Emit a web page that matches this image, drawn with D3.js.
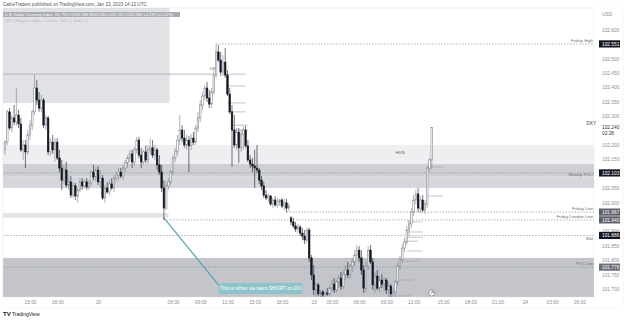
<!DOCTYPE html>
<html>
<head>
<meta charset="utf-8">
<script src="https://cdn.jsdelivr.net/npm/d3@7"></script>
<style>
body { margin: 0; background: #fff; }
text { font-family: "Liberation Sans", Arial, sans-serif; }
</style>
</head>
<body>
<script>
var svgWidth = 625, svgHeight = 320;

// 15 min DXY bars, [open, high, low, close]
var ohlc = [
[102.183,102.217,102.165,102.210],[102.210,102.322,102.200,102.315],[102.315,102.328,102.252,102.259],[102.259,102.304,102.245,102.294],
[102.294,102.339,102.269,102.280],[102.280,102.398,102.266,102.304],[102.304,102.322,102.259,102.273],[102.273,102.294,102.176,102.183],
[102.183,102.217,102.148,102.200],[102.200,102.217,102.120,102.176],[102.176,102.252,102.165,102.235],[102.235,102.287,102.217,102.269],
[102.269,102.322,102.252,102.315],[102.315,102.443,102.304,102.398],[102.398,102.426,102.339,102.356],[102.356,102.384,102.315,102.328],
[102.328,102.374,102.315,102.356],[102.356,102.363,102.259,102.269],[102.269,102.304,102.252,102.294],[102.294,102.301,102.165,102.176],
[102.176,102.224,102.162,102.210],[102.210,102.235,102.169,102.183],[102.183,102.224,102.141,102.210],[102.210,102.224,102.148,102.155],
[102.155,102.183,102.106,102.120],[102.120,102.148,102.044,102.078],[102.078,102.131,102.065,102.113],[102.113,102.141,102.051,102.061],
[102.061,102.096,102.044,102.072],[102.072,102.092,102.016,102.026],[102.026,102.072,102.016,102.058],[102.058,102.068,102.009,102.023],
[102.023,102.051,101.999,102.044],[102.044,102.085,102.037,102.072],[102.072,102.085,102.044,102.058],[102.058,102.078,102.051,102.072],
[102.072,102.085,102.044,102.054],[102.054,102.078,102.044,102.068],[102.068,102.113,102.058,102.106],[102.106,102.131,102.078,102.089],
[102.089,102.124,102.072,102.113],[102.113,102.127,102.061,102.072],[102.072,102.113,102.051,102.085],[102.085,102.096,102.009,102.016],
[102.016,102.061,101.999,102.051],[102.051,102.072,102.030,102.037],[102.037,102.078,102.026,102.065],[102.065,102.085,102.044,102.051],
[102.051,102.096,102.037,102.085],[102.085,102.106,102.072,102.096],[102.096,102.120,102.078,102.106],[102.106,102.120,102.085,102.092],
[102.092,102.131,102.078,102.120],[102.120,102.148,102.106,102.138],[102.138,102.165,102.120,102.155],[102.155,102.183,102.141,102.169],
[102.169,102.183,102.120,102.141],[102.141,102.190,102.131,102.183],[102.183,102.228,102.172,102.217],[102.217,102.228,102.155,102.165],
[102.165,102.190,102.120,102.141],[102.141,102.183,102.131,102.176],[102.176,102.197,102.138,102.148],[102.148,102.200,102.134,102.183],
[102.183,102.224,102.169,102.190],[102.190,102.217,102.155,102.165],[102.165,102.200,102.148,102.183],[102.183,102.190,102.113,102.131],
[102.131,102.165,102.096,102.106],[102.106,102.131,102.037,102.051],[102.051,102.078,101.940,101.981],[101.981,102.072,101.974,102.058],
[102.058,102.085,102.044,102.072],[102.072,102.113,102.061,102.106],[102.106,102.165,102.096,102.155],[102.155,102.190,102.141,102.179],
[102.179,102.235,102.165,102.217],[102.217,102.304,102.200,102.252],[102.252,102.269,102.210,102.224],[102.224,102.252,102.190,102.200],
[102.200,102.235,102.183,102.217],[102.217,102.231,102.106,102.197],[102.197,102.238,102.183,102.224],[102.224,102.245,102.200,102.210],
[102.210,102.269,102.200,102.259],[102.259,102.315,102.245,102.294],[102.294,102.356,102.280,102.339],[102.339,102.384,102.322,102.370],
[102.370,102.408,102.356,102.398],[102.398,102.419,102.349,102.363],[102.363,102.391,102.328,102.342],[102.342,102.398,102.328,102.384],
[102.384,102.460,102.374,102.443],[102.443,102.551,102.433,102.523],[102.523,102.547,102.488,102.495],[102.495,102.523,102.440,102.453],
[102.453,102.513,102.440,102.488],[102.488,102.537,102.433,102.443],[102.443,102.460,102.370,102.377],[102.377,102.398,102.308,102.315],
[102.315,102.339,102.124,102.252],[102.252,102.304,102.190,102.200],[102.200,102.259,102.183,102.245],[102.245,102.259,102.138,102.190],
[102.190,102.252,102.176,102.238],[102.238,102.266,102.183,102.252],[102.252,102.266,102.190,102.197],[102.197,102.217,102.141,102.148],
[102.148,102.165,102.120,102.134],[102.134,102.155,102.106,102.127],[102.127,102.183,102.051,102.120],[102.120,102.200,102.103,102.113],
[102.113,102.120,102.065,102.078],[102.078,102.092,102.044,102.058],[102.058,102.072,102.016,102.026],[102.026,102.044,102.009,102.016],
[102.016,102.030,102.002,102.023],[102.023,102.026,101.988,101.995],[101.995,102.016,101.981,102.009],[102.009,102.023,101.985,101.992],
[101.992,102.016,101.981,102.002],[102.002,102.013,101.988,102.009],[102.009,102.016,101.981,101.988],[101.988,102.013,101.974,101.999],
[101.999,102.013,101.967,101.981],[101.981,101.999,101.971,101.988],
[101.947,101.953,101.922,101.933],[101.933,101.947,101.912,101.919],[101.919,101.933,101.898,101.908],[101.908,101.926,101.894,101.915],
[101.915,101.922,101.884,101.894],[101.894,101.912,101.870,101.884],[101.884,101.905,101.856,101.870],[101.870,101.912,101.860,101.905],
[101.905,101.912,101.794,101.808],[101.808,101.818,101.731,101.749],[101.749,101.783,101.679,101.697],[101.697,101.724,101.672,101.714],
[101.714,101.721,101.676,101.683],[101.683,101.697,101.672,101.690],[101.690,101.697,101.672,101.679],[101.679,101.693,101.672,101.686],
[101.686,101.703,101.676,101.683],[101.683,101.710,101.676,101.703],[101.703,101.731,101.690,101.717],[101.717,101.738,101.686,101.697],
[101.697,101.731,101.686,101.724],[101.724,101.749,101.703,101.738],[101.738,101.759,101.697,101.710],[101.710,101.766,101.700,101.752],
[101.752,101.783,101.731,101.766],[101.766,101.794,101.738,101.749],[101.749,101.787,101.735,101.780],[101.780,101.808,101.759,101.794],
[101.794,101.835,101.780,101.818],[101.818,101.853,101.808,101.835],[101.835,101.849,101.794,101.808],[101.808,101.835,101.749,101.766],
[101.766,101.783,101.686,101.703],[101.703,101.794,101.690,101.780],[101.780,101.849,101.766,101.835],[101.835,101.853,101.787,101.794],
[101.794,101.808,101.697,101.714],[101.714,101.759,101.686,101.745],[101.745,101.766,101.697,101.703],[101.703,101.745,101.690,101.731],
[101.731,101.752,101.703,101.717],[101.717,101.742,101.690,101.731],[101.731,101.738,101.683,101.697],[101.697,101.724,101.672,101.710],
[101.710,101.717,101.672,101.683],[101.683,101.703,101.672,101.690],[101.690,101.731,101.672,101.724],[101.724,101.794,101.714,101.780],
[101.780,101.815,101.766,101.801],[101.801,101.856,101.790,101.842],[101.842,101.877,101.828,101.863],[101.863,101.919,101.853,101.905],
[101.905,101.940,101.884,101.926],[101.926,101.981,101.912,101.967],[101.967,102.026,101.953,102.009],[102.009,102.044,101.995,102.030],
[102.030,102.051,101.967,101.981],[101.981,102.023,101.964,102.009],[102.009,102.026,101.967,101.974],[101.974,102.009,101.960,101.995],
[101.995,102.127,101.981,102.120],[102.120,102.155,102.106,102.148],[102.148,102.260,102.115,102.260]
];

// time axis labels by bar index (later ones are in the empty future area)
var timeTickIdx = [11, 23, 41, 74, 86, 98, 110, 122, 136, 144, 156, 168, 180, 193, 205, 217, 229, 241, 253];
var timeTickText = ["15:00","18:00","20","06:00","09:00","12:00","15:00","18:00","23","03:00","06:00","09:00","12:00","15:00","18:00","21:00","24","03:00","06:00"];

var priceTicks = [102.6, 102.5, 102.45, 102.4, 102.35, 102.3, 102.2, 102.15, 102.05, 102.0, 101.9, 101.85, 101.8, 101.75, 101.7];

// key levels: name, price, first bar, tag colour
var levelNames = ["Friday High", "Weekly POC", "Friday Low", "Friday London Low", "Mid", "POC low"];
var levelPrices = [102.551, 102.103, 101.967, 101.940, 101.886, 101.776];
var levelStart = [93, -3, 124, 70, -3, -3];
var levelTag = ["#131722", "#131722", "#5d606b", "#5d606b", "#131722", "#6a6d78"];

// shaded zones [first bar, last bar, top price, bottom price, colour]
var zones = [
  [-3, 262, 102.200, 102.134, "#efeff2"],
  [-3, 262, 102.134, 102.090, "#cfd0d5"],
  [-3, 262, 102.090, 102.051, "#d6d7dc"],
  [-3, 262, 101.808, 101.640, "#c3c5cb"],
  [-3, 72, 101.964, 101.947, "#e4e5e9"],
  [-3, 72.5, 102.700, 102.346, "#e1e2e6"]
];

// short session lines [from bar, to bar, price]
var stubs = [
  [96, 106, 102.446], [98, 106, 102.405], [98, 106, 102.346], [98, 106, 102.315], [100, 107, 102.269], [101, 107, 102.252],
  [186, 193, 102.124], [186, 193, 102.023], [177, 184, 101.933], [177, 184, 101.898], [177, 184, 101.880],
  [176, 182, 101.866], [177, 184, 101.832], [176, 182, 101.797], [173, 180, 101.731], [173, 179, 101.676]
];
var obLine = [-3, 92, 102.446];

var margin = {left: 3, top: 8, right: 31, bottom: 23};
var plotW = svgWidth - margin.left - margin.right;
var plotH = svgHeight - margin.top - margin.bottom;

var svg = d3.select("body").append("svg").attr("width", svgWidth).attr("height", svgHeight);

var x = d3.scaleLinear().domain([0, 258]).range([5, 5 + 258 * 2.27]);
var y = d3.scaleLinear().domain([101.7, 102.6]).range([289, 29.8]);

svg.append("clipPath").attr("id", "plot")
  .append("rect").attr("x", margin.left).attr("y", margin.top).attr("width", plotW).attr("height", plotH);

var plot = svg.append("g").attr("clip-path", "url(#plot)");

plot.selectAll("rect.zone").data(zones).enter().append("rect")
  .attr("x", d => x(d[0])).attr("width", d => x(d[1]) - x(d[0]))
  .attr("y", d => y(d[2])).attr("height", d => y(d[3]) - y(d[2]))
  .attr("fill", d => d[4]);

// legend strip on top of the box
svg.append("rect").attr("x", 3).attr("y", 12).attr("width", 177).attr("height", 5).attr("fill", "#a9abb2");

// level lines
plot.selectAll("line.level").data(levelPrices).enter().append("line")
  .attr("x1", (d, i) => x(levelStart[i])).attr("x2", x(262))
  .attr("y1", d => y(d)).attr("y2", d => y(d))
  .attr("stroke", "#8f929b").attr("stroke-width", 0.7).attr("stroke-dasharray", "1.5,1.5");

plot.append("line")
  .attr("x1", x(obLine[0])).attr("x2", x(obLine[1]))
  .attr("y1", y(obLine[2])).attr("y2", y(obLine[2]))
  .attr("stroke", "#9a9da5").attr("stroke-width", 0.7);

plot.selectAll("line.stub").data(stubs).enter().append("line")
  .attr("x1", d => x(d[0])).attr("x2", d => x(d[1]))
  .attr("y1", d => y(d[2])).attr("y2", d => y(d[2]))
  .attr("stroke", "#9a9da5").attr("stroke-width", 0.6);

// annotation line
var noteFrom = [70, 101.947], noteTo = [95, 101.705];
plot.append("line")
  .attr("x1", x(noteFrom[0])).attr("y1", y(noteFrom[1]))
  .attr("x2", x(noteTo[0])).attr("y2", y(noteTo[1]))
  .attr("stroke", "#5aa5ae").attr("stroke-width", 1.2);

// candles
var bw = 1.6;
var candles = plot.selectAll("g.candle").data(ohlc).enter().append("g");
candles.append("line")
  .attr("x1", (d, i) => x(i)).attr("x2", (d, i) => x(i))
  .attr("y1", d => y(d[1])).attr("y2", d => y(d[2]))
  .attr("stroke", d => d[3] >= d[0] ? "#7d808a" : "#131722").attr("stroke-width", 0.6);
candles.append("rect")
  .attr("x", (d, i) => x(i) - bw / 2).attr("width", bw)
  .attr("y", d => y(Math.max(d[0], d[3])))
  .attr("height", d => Math.max(0.6, Math.abs(y(d[0]) - y(d[3]))))
  .attr("fill", d => d[3] >= d[0] ? "#ffffff" : "#131722")
  .attr("stroke", d => d[3] >= d[0] ? "#7d808a" : "#131722").attr("stroke-width", 0.55);

// annotation box
var nx = x(noteTo[0]), ny = y(noteTo[1]);
svg.append("rect").attr("x", nx - 2).attr("y", ny - 4.5).attr("width", 84).attr("height", 11).attr("rx", 3)
  .attr("fill", "#8fc3ca");
svg.append("text").attr("x", nx + 40).attr("y", ny + 2.8).attr("text-anchor", "middle")
  .attr("font-size", 5).attr("fill", "#ffffff").text("This is when we went SHORT on DU");

// labels inside the plot
plot.selectAll("text.lvl").data(levelNames).enter().append("text")
  .attr("x", 593)
  .attr("y", (d, i) => y(levelPrices[i]) + (d == "Mid" ? 5 : d == "Weekly POC" ? 3.5 : -2))
  .attr("text-anchor", "end").attr("font-size", 4.3).attr("fill", "#6a6d78").text(d => d);

plot.append("text").attr("x", x(90)).attr("y", y(102.46)).attr("font-size", 4).attr("fill", "#6a6d78").text("OB");
plot.append("text").attr("x", x(172)).attr("y", y(102.17)).attr("font-size", 4.3).attr("fill", "#555").text("HVN");
svg.append("text").attr("x", 596).attr("y", y(102.27)).attr("text-anchor", "end").attr("font-size", 4.6).attr("fill", "#333").text("DXY");

// little replay icon
svg.append("circle").attr("cx", x(188)).attr("cy", 293).attr("r", 3).attr("fill", "#fff").attr("stroke", "#777").attr("stroke-width", 0.7);
svg.append("path").attr("d", `M${x(188) - 1.2},${294.2} L${x(188) + 1.3},${291.7} M${x(188) - 0.2},${291.7} L${x(188) + 1.3},${291.7} L${x(188) + 1.3},${293.2}`)
  .attr("stroke", "#555").attr("stroke-width", 0.6).attr("fill", "none");

// frame
svg.append("rect").attr("x", margin.left).attr("y", margin.top).attr("width", plotW).attr("height", plotH)
  .attr("fill", "none").attr("stroke", "#d6d8de").attr("stroke-width", 0.5).attr("stroke-dasharray", "1,1");
svg.append("rect").attr("x", margin.left).attr("y", margin.top).attr("width", svgWidth - 5).attr("height", plotH + 11)
  .attr("fill", "none").attr("stroke", "#e0e2e7").attr("stroke-width", 0.5).attr("stroke-dasharray", "1,1");

// price axis
var rightAxis = d3.axisRight(y).tickValues(priceTicks).tickFormat(d3.format(".3f")).tickSize(0).tickPadding(0);
var ra = svg.append("g").attr("transform", `translate(602,0)`).call(rightAxis);
ra.select(".domain").remove();
ra.selectAll("text").attr("font-size", 4.8).attr("fill", "#8a8d96").attr("font-family", "Liberation Sans, Arial");
svg.append("text").attr("x", 602).attr("y", 16).attr("font-size", 4.8).attr("fill", "#8a8d96").text("USD");

var tags = svg.selectAll("g.tag").data(levelPrices).enter().append("g")
  .attr("transform", d => `translate(599,${y(d)})`);
tags.append("rect").attr("x", 0).attr("y", -3.6).attr("width", 21).attr("height", 7.2)
  .attr("fill", (d, i) => levelTag[i]);
tags.append("text").attr("x", 3).attr("y", 1.8).attr("font-size", 4.8).attr("fill", "#fff").text(d => d.toFixed(3));

var last = ohlc[ohlc.length - 1];
svg.append("text").attr("x", 602).attr("y", y(last[3]) + 1.5).attr("font-size", 4.8).attr("fill", "#333").text("102.240");
svg.append("text").attr("x", 602).attr("y", y(last[3]) + 7).attr("font-size", 4.8).attr("fill", "#333").text("02:28");

// time axis
var bottomAxis = d3.axisBottom(x).tickValues(timeTickIdx)
  .tickFormat(d => timeTickText[timeTickIdx.indexOf(d)]).tickSize(0).tickPadding(4);
var ba = svg.append("g").attr("transform", `translate(0,${margin.top + plotH})`).call(bottomAxis);
ba.select(".domain").remove();
ba.selectAll("text").attr("font-size", 4.8).attr("fill", "#8a8d96").attr("font-family", "Liberation Sans, Arial");

// header, legend, logo
svg.append("text").attr("x", 3).attr("y", 5.5).attr("font-size", 4.6).attr("fill", "#555")
  .text("CableTraders published on TradingView.com, Jan 23, 2023 14:12 UTC");
svg.append("text").attr("x", 5).attr("y", 16).attr("font-size", 4).attr("fill", "#ffffff")
  .text("U.S. Dollar Currency Index, 15, TVC  O102.148 H102.260 L102.115 C102.260 +0.119 (+0.12%)");
svg.append("text").attr("x", 5).attr("y", 21.5).attr("font-size", 4).attr("fill", "#b5b7bd")
  .text("TPO (Regular Open, 1 (Close, 100, 5, Solid, 2)");
svg.append("text").attr("x", 3).attr("y", 315.5).attr("font-size", 6).attr("font-weight", "bold").attr("fill", "#131722").text("TV");
svg.append("text").attr("x", 12).attr("y", 315.5).attr("font-size", 5).attr("fill", "#131722").text("TradingView");
</script>
</body>
</html>
